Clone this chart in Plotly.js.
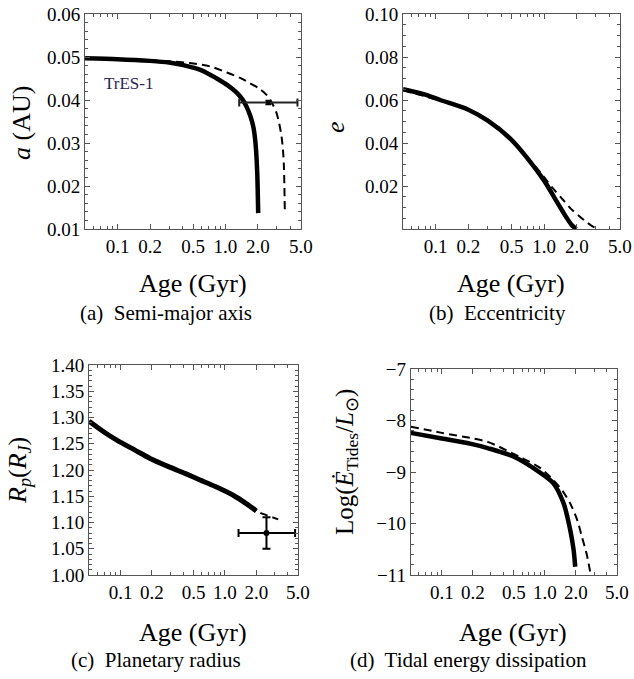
<!DOCTYPE html>
<html>
<head>
<meta charset="utf-8">
<script src="https://cdn.plot.ly/plotly-3.0.1.min.js"></script>
<style>html,body{margin:0;padding:0;background:#fff;}#chart{width:634px;height:679px;}</style>
</head>
<body>
<div id="chart"></div>
<script>
// ---------- data ----------
// (a) semi-major axis
const ageA_solid = [0.05, 0.1, 0.2, 0.3, 0.406, 0.6, 0.83, 1.05, 1.27, 1.45, 1.57, 1.7, 1.81, 1.88, 1.92, 1.97, 2.01];
const a_solid    = [0.0497, 0.0495, 0.0491, 0.0487, 0.0481, 0.0469, 0.0450, 0.0434, 0.0417, 0.0400, 0.0384, 0.0363, 0.0338, 0.0310, 0.0284, 0.0230, 0.0137];
const ageA_dash  = [0.05, 0.1, 0.2, 0.3, 0.47, 0.72, 1.03, 1.35, 1.69, 2.05, 2.40, 2.70, 2.98, 3.15, 3.31, 3.42, 3.48, 3.55];
const a_dash     = [0.0497, 0.0495, 0.0492, 0.0490, 0.0486, 0.0478, 0.0464, 0.0452, 0.0439, 0.0427, 0.0412, 0.0393, 0.0369, 0.0345, 0.0315, 0.0280, 0.0245, 0.0140];
const obsA_age = [2.5], obsA_ageMinus = [1.16], obsA_agePlus = [2.15];
const obsA_a = [0.0394], obsA_aErr = [0.0004];

// (b) eccentricity
const ageB_solid = [0.05, 0.08, 0.11, 0.2, 0.3, 0.5, 0.7, 1.0, 1.3, 1.6, 1.8, 1.98];
const e_solid    = [0.065, 0.0625, 0.060, 0.0555, 0.0505, 0.0415, 0.033, 0.0225, 0.013, 0.0055, 0.0018, 0.0];
const ageB_dash  = [0.05, 0.1, 0.2, 0.3, 0.5, 0.7, 0.9, 1.2, 1.5, 1.8, 2.14, 2.5, 2.8, 3.2];
const e_dash     = [0.0645, 0.0603, 0.0553, 0.0503, 0.0413, 0.0330, 0.0270, 0.0190, 0.0135, 0.0090, 0.0057, 0.0030, 0.0012, 0.0];

// (c) planetary radius
const ageC_solid = [0.05, 0.07, 0.092, 0.14, 0.192, 0.3, 0.42, 0.577, 0.8, 1.2, 1.6, 2.0];
const rp_solid   = [1.293, 1.272, 1.257, 1.237, 1.222, 1.205, 1.193, 1.181, 1.169, 1.152, 1.136, 1.122];
const ageC_dash  = [0.05, 0.07, 0.092, 0.14, 0.192, 0.3, 0.42, 0.577, 0.8, 1.2, 1.6, 2.0, 2.5, 3.24];
const rp_dash    = [1.293, 1.272, 1.257, 1.237, 1.222, 1.205, 1.193, 1.181, 1.169, 1.152, 1.136, 1.122, 1.114, 1.106];
const obsC_age = [2.5], obsC_ageMinus = [1.15], obsC_agePlus = [2.2];
const obsC_rp = [1.08], obsC_rpErr = [0.03];

// (d) tidal energy dissipation
const ageD_solid = [0.05, 0.1, 0.188, 0.283, 0.495, 0.836, 1.21, 1.52, 1.76, 1.90, 1.97];
const ed_solid   = [-8.24, -8.35, -8.45, -8.54, -8.70, -8.97, -9.22, -9.61, -10.12, -10.51, -10.84];
const ageD_dash  = [0.05, 0.1, 0.203, 0.283, 0.575, 0.9, 1.21, 1.5, 1.76, 2.05, 2.29, 2.55, 2.75, 2.8];
const ed_dash    = [-8.12, -8.24, -8.35, -8.42, -8.71, -8.92, -9.16, -9.38, -9.61, -9.92, -10.26, -10.60, -10.93, -11.0];

// tick labels
const xTickVals = [0.1, 0.2, 0.5, 1, 2, 5];
const xTickText = ['0.1', '0.2', '0.5', '1.0', '2.0', '5.0'];
const xMinorVals = [0.06, 0.07, 0.08, 0.09, 0.3, 0.4, 0.6, 0.7, 0.8, 0.9, 3, 4];
const yA_vals = [0.01, 0.02, 0.03, 0.04, 0.05, 0.06];
const yA_text = ['0.01', '0.02', '0.03', '0.04', '0.05', '0.06'];
const yB_vals = [0.02, 0.04, 0.06, 0.08, 0.10];
const yB_text = ['0.02', '0.04', '0.06', '0.08', '0.10'];
const yC_vals = [1.00, 1.05, 1.10, 1.15, 1.20, 1.25, 1.30, 1.35, 1.40];
const yC_text = ['1.00', '1.05', '1.10', '1.15', '1.20', '1.25', '1.30', '1.35', '1.40'];
const yD_vals = [-11, -10, -9, -8, -7];
const yD_text = ['\u221211', '\u221210', '\u22129', '\u22128', '\u22127'];

// ---------- layout helpers ----------
const W = 634, H = 679;
const FONT = 'Liberation Serif';
const fx = px => px / W;
const fy = py => 1 - py / H;
const frame = '#555';

function xAxis(x0, x1, anchor) {
  return {
    type: 'log', domain: [fx(x0), fx(x1)], anchor: anchor,
    range: [Math.log10(0.05) - 0.001, Math.log10(5) + 0.001],
    tickmode: 'array', tickvals: xTickVals, ticktext: xTickText,
    ticks: 'inside', ticklen: 5, tickwidth: 1, tickcolor: frame,
    minor: {tickmode: 'array', tickvals: xMinorVals, ticks: 'inside', ticklen: 3, tickwidth: 1, tickcolor: frame},
    showline: true, linecolor: frame, linewidth: 1, mirror: 'allticks',
    showgrid: false, zeroline: false,
    tickfont: {family: FONT, size: 19, color: '#000'}
  };
}
function yAxis(y0, y1, anchor, range, vals, text, minorDtick) {
  return {
    domain: [fy(y1), fy(y0)], anchor: anchor, range: range,
    tickmode: 'array', tickvals: vals, ticktext: text,
    ticks: 'inside', ticklen: 5, tickwidth: 1, tickcolor: frame,
    minor: {dtick: minorDtick, tick0: 0, ticks: 'inside', ticklen: 3, tickwidth: 1, tickcolor: frame},
    showline: true, linecolor: frame, linewidth: 1, mirror: 'allticks',
    showgrid: false, zeroline: false,
    tickfont: {family: FONT, size: 19, color: '#000'}
  };
}

const solid = {color: '#000', width: 4.5, shape: 'spline', smoothing: 0.8};
const dashed = {color: '#000', width: 2, dash: '8px,5px', shape: 'spline', smoothing: 0.8};

const traces = [
  // (a)
  {x: ageA_dash, y: a_dash, mode: 'lines', line: dashed, xaxis: 'x', yaxis: 'y'},
  {x: ageA_solid, y: a_solid, mode: 'lines', line: solid, xaxis: 'x', yaxis: 'y'},
  {x: obsA_age, y: obsA_a, mode: 'markers', marker: {color: '#000', size: 4, symbol: 'square'},
   error_x: {type: 'data', symmetric: false, array: obsA_agePlus, arrayminus: obsA_ageMinus, color: '#222', thickness: 2, width: 4},
   error_y: {type: 'data', array: obsA_aErr, color: '#000', thickness: 2, width: 3},
   xaxis: 'x', yaxis: 'y'},
  // (b)
  {x: ageB_dash, y: e_dash, mode: 'lines', line: dashed, xaxis: 'x2', yaxis: 'y2'},
  {x: ageB_solid, y: e_solid, mode: 'lines', line: solid, xaxis: 'x2', yaxis: 'y2'},
  // (c)
  {x: ageC_dash, y: rp_dash, mode: 'lines', line: dashed, xaxis: 'x3', yaxis: 'y3'},
  {x: ageC_solid, y: rp_solid, mode: 'lines', line: {color: '#000', width: 5, shape: 'spline', smoothing: 0.8}, xaxis: 'x3', yaxis: 'y3'},
  {x: obsC_age, y: obsC_rp, mode: 'markers', marker: {color: '#000', size: 6},
   error_x: {type: 'data', symmetric: false, array: obsC_agePlus, arrayminus: obsC_ageMinus, color: '#000', thickness: 2, width: 4},
   error_y: {type: 'data', array: obsC_rpErr, color: '#000', thickness: 2, width: 4},
   xaxis: 'x3', yaxis: 'y3'},
  // (d)
  {x: ageD_dash, y: ed_dash, mode: 'lines', line: dashed, xaxis: 'x4', yaxis: 'y4'},
  {x: ageD_solid, y: ed_solid, mode: 'lines', line: solid, xaxis: 'x4', yaxis: 'y4'}
];

function ann(text, px, py, size, extra) {
  return Object.assign({text: text, x: fx(px), y: fy(py), xref: 'paper', yref: 'paper',
    xanchor: 'center', yanchor: 'middle', showarrow: false,
    font: {family: FONT, size: size, color: '#000'}}, extra || {});
}

const annotations = [
  ann('Age (Gyr)', 193, 283, 26),
  ann('Age (Gyr)', 511, 283, 26),
  ann('Age (Gyr)', 193, 632, 26),
  ann('Age (Gyr)', 513, 632, 26),
  ann('(a)  Semi-major axis', 166, 313, 21),
  ann('(b)  Eccentricity', 497, 313, 21),
  ann('(c)  Planetary radius', 156, 660, 21),
  ann('(d)  Tidal energy dissipation', 468, 660, 21),
  ann('<i>a</i> (AU)', 21, 123, 26, {textangle: -90}),
  ann('<i>e</i>', 335, 127, 26, {textangle: -90}),
  ann('<i>R</i><sub><i>p</i></sub>(<i>R</i><sub><i>J</i></sub>)', 19, 471, 26, {textangle: -90}),
  ann('Log(<i>\u0116</i><sub>Tides</sub>/<i>L</i><sub>\u2299</sub>)', 346, 462, 25, {textangle: -90}),
  ann('TrES-1', 128, 83, 17, {font: {family: FONT, size: 17, color: '#2a2450'}})
];

const layout = {
  width: W, height: H, margin: {l: 0, r: 0, t: 0, b: 0},
  paper_bgcolor: '#fff', plot_bgcolor: '#fff', showlegend: false,
  font: {family: FONT, color: '#000'},
  xaxis: xAxis(85, 301, 'y'),
  yaxis: yAxis(14, 229, 'x', [0.01, 0.06], yA_vals, yA_text, 0.002),
  xaxis2: xAxis(403, 620, 'y2'),
  yaxis2: yAxis(14, 229, 'x2', [0, 0.10], yB_vals, yB_text, 0.005),
  xaxis3: xAxis(89, 298, 'y3'),
  yaxis3: yAxis(365, 575, 'x3', [1.0, 1.4], yC_vals, yC_text, 0.01),
  xaxis4: xAxis(410.7, 617, 'y4'),
  yaxis4: yAxis(369, 575, 'x4', [-11, -7], yD_vals, yD_text, 0.2),
  annotations: annotations
};

Plotly.newPlot('chart', traces, layout, {staticPlot: true, displayModeBar: false});
</script>
</body>
</html>
